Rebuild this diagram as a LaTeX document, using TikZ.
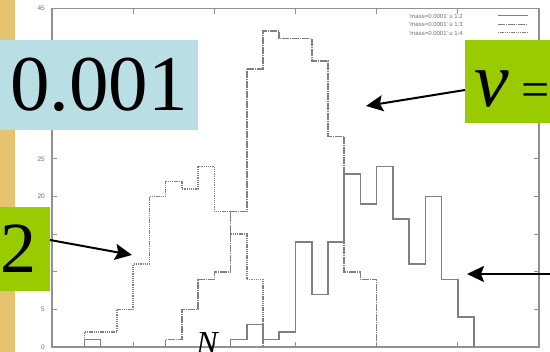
\documentclass[tikz,border=0pt]{standalone}
\usepackage{fontspec}
\setmainfont{Liberation Serif}
\newfontfamily\plotfont{Liberation Sans}
\usetikzlibrary{arrows.meta}
\definecolor{stripcol}{RGB}{229,195,112}
\definecolor{bluebox}{RGB}{185,223,228}
\definecolor{greenbox}{RGB}{153,204,0}
\definecolor{plotgray}{RGB}{128,128,128}
\definecolor{framegray}{RGB}{145,145,145}
\definecolor{labgray}{RGB}{105,108,125}
\begin{document}
\begin{tikzpicture}[x=1pt,y=-1pt,
  hist/.style={draw=plotgray, line width=1.6pt},
  solidh/.style={hist},
  dashh/.style={hist, dash pattern=on 7pt off 1pt on 1pt off 1pt},
  doth/.style={hist, dash pattern=on 1.3pt off 0.9pt},
  frameline/.style={draw=framegray, line width=1.4pt},
  tickline/.style={draw=framegray, line width=1pt},
  ticklab/.style={font=\plotfont\fontsize{6.5}{6.5}\selectfont, text=labgray, anchor=east, inner sep=0pt},
  leglab/.style={font=\plotfont\fontsize{6}{6}\selectfont, text=labgray, anchor=east, inner sep=0pt},
  boxnode/.style={inner sep=0pt, outer sep=0pt, anchor=north west},
  arr/.style={-{Stealth[length=17pt,width=16pt,inset=3pt]}, line width=2pt, black}
]
\useasboundingbox (0,0) rectangle (550,352);
\clip (0,0) rectangle (550,352);
\fill[white] (0,0) rectangle (550,352);
\fill[stripcol] (0,0) rectangle (15,352);
% frame and ticks
\draw[frameline] (52,8.6) rectangle (539,347);
\foreach \v in {0,5,...,45} {
  \draw[tickline] (52,{347-7.52*\v}) -- ++(5,0);
  \draw[tickline] (539,{347-7.52*\v}) -- ++(-5,0);
}
\foreach \v in {0,5,20,25,45} {
  \node[ticklab] at (45,{347-7.52*\v}) {\v};
}
\foreach \i in {1,...,5} {
  \draw[tickline] ({52+81.17*\i},347) -- ++(0,-5);
  \draw[tickline] ({52+81.17*\i},8.6) -- ++(0,5);
}
% histograms
\draw[dashh] ({52+16.233*7},347) \foreach \v [count=\i from 8] in {1,5,9,10,18,37,42,41,41,38,28,10,9} { |- ({52+16.233*\i},{347-7.52*\v}) } -- ({52+16.233*20},347);
\draw[doth] ({52+16.233*2},347) \foreach \v [count=\i from 3] in {2,2,5,11,20,22,21,24,18,15,9} { |- ({52+16.233*\i},{347-7.52*\v}) } -- ({52+16.233*13},347);
\draw[solidh] ({52+16.233*2},347) |- ({52+16.233*3},{347-7.52}) -- ({52+16.233*3},347);
\draw[solidh] ({52+16.233*11},347) \foreach \v [count=\i from 12] in {1,3,1,2,14,7,14,23,19,24,17,11,20,9,4} { |- ({52+16.233*\i},{347-7.52*\v}) } -- ({52+16.233*26},347);
% legend
\node[leglab] (leg1) at (463,16) {'mass=0.0001' u 1:2};
\node[leglab] (leg2) at (463,24.5) {'mass=0.0001' u 1:3};
\node[leglab] (leg3) at (463,33) {'mass=0.0001' u 1:4};
\draw[solidh, line width=1pt] (498,16) -- (528,16);
\draw[dashh, line width=1pt] (498,24.5) -- (528,24.5);
\draw[doth, line width=1pt] (498,33) -- (528,33);
% boxes
\node[boxnode, fill=bluebox, minimum width=198pt, minimum height=90pt, font=\fontsize{79}{79}\selectfont] (mu) at (0,40) {0.001};
\node[boxnode, fill=greenbox, minimum width=50pt, minimum height=84pt, text width=48pt, align=left, inner xsep=1pt, font=\fontsize{72}{72}\selectfont] (two) at (0,207) {2};
\node[boxnode, fill=greenbox, minimum width=100pt, minimum height=83pt] (nu) at (465,40) {};
\node[anchor=base west, inner sep=0pt] (nulab) at (474,107) {{\fontsize{78}{78}\selectfont\itshape ν}{\fontsize{50}{50}\selectfont\ =}};
% arrows
\coordinate (tipA) at (132,255);
\coordinate (tipB) at (366,106);
\coordinate (rstart) at (560,274);
\coordinate (tipC) at (467,274);
\draw[arr] ([yshift=9pt]two.east) -- (tipA);
\draw[arr] ([yshift=-8.5pt]nu.west) -- (tipB);
\draw[arr] (rstart) -- (tipC);
% axis label
\node[anchor=base, inner sep=0pt, font=\fontsize{32}{32}\selectfont\itshape] (N) at (207,354) {N};
\end{tikzpicture}
\end{document}
